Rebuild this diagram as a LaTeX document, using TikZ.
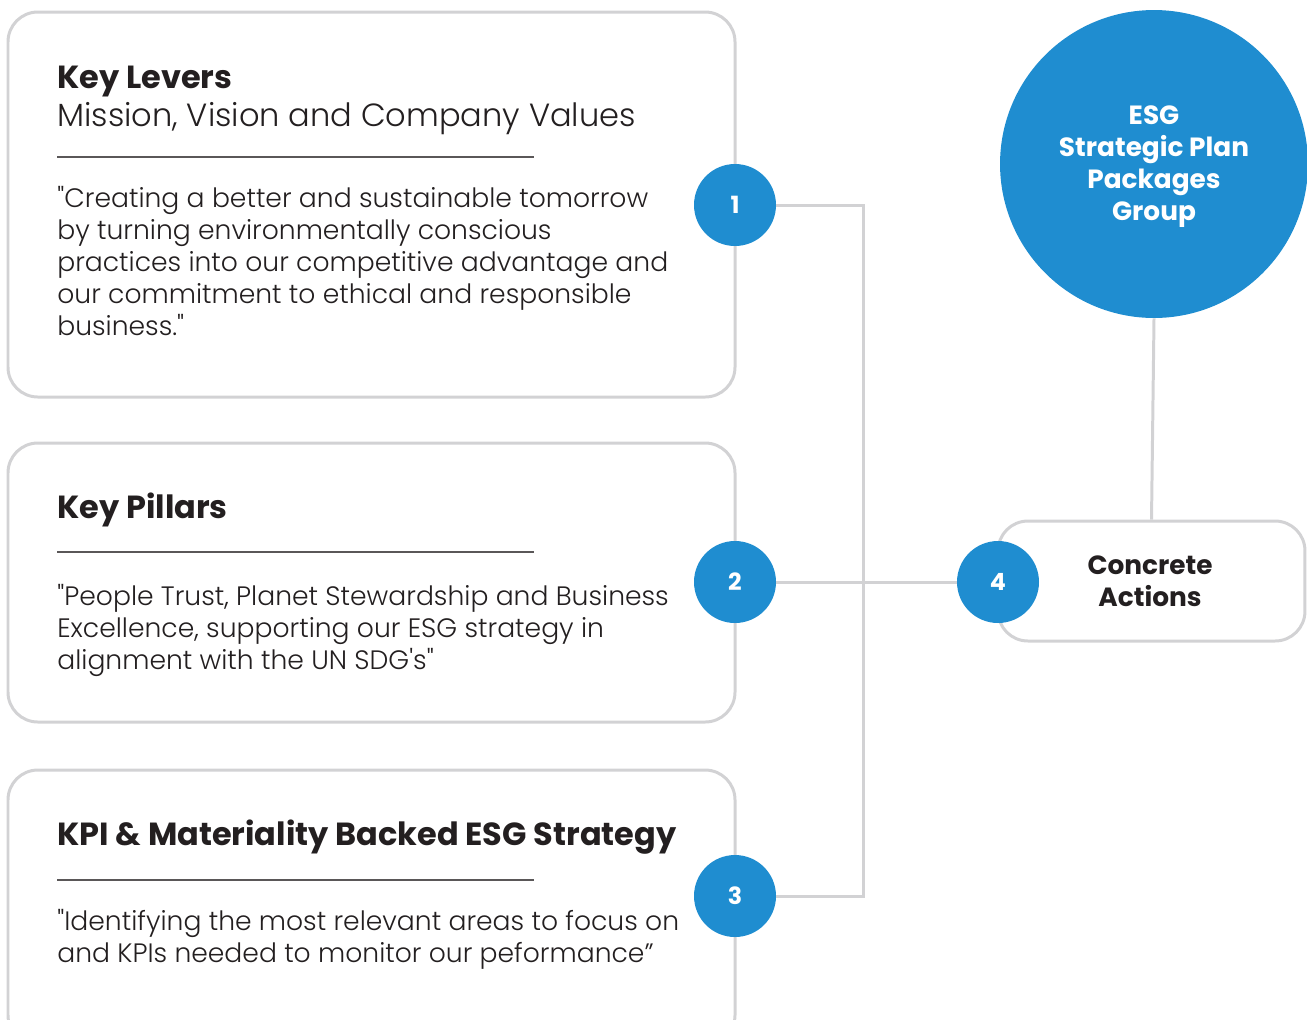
\documentclass[tikz,border=0pt]{standalone}
\usepackage{fontspec}
\setmainfont{Poppins}[Ligatures=TeXOff]
\newfontfamily\lightfont{Poppins Light}[Ligatures=TeXOff]
\usetikzlibrary{calc}
\definecolor{esgblue}{HTML}{1F8DD0}
\definecolor{wiregray}{HTML}{D2D2D4}
\definecolor{ink}{HTML}{231F20}
\tikzset{
  card/.style={draw=wiregray, line width=1.7pt, rounded corners=17pt, fill=white},
  wire/.style={draw=wiregray, line width=1.7pt},
  numdot/.style={circle, fill=esgblue, text=white, minimum size=1.64cm, inner sep=0pt,
    font=\fontsize{13.5}{15}\selectfont\bfseries},
  headtxt/.style={anchor=base west, inner sep=0pt, text=ink, font=\fontsize{18.2}{22}\selectfont\bfseries},
  subtxt/.style={anchor=base west, inner sep=0pt, text=ink, font=\lightfont\fontsize{18.25}{20}\selectfont},
  quotetxt/.style={anchor=base west, inner sep=0pt, text=ink, align=left,
    font=\lightfont\fontsize{15.15}{18.1}\selectfont},
  rule/.style={draw=ink!75, line width=0.6pt}
}
\begin{document}
\begin{tikzpicture}[x=0.02cm, y=-0.02cm]
  \useasboundingbox (0,0) rectangle (1307,1019);
  \clip (0,0) rectangle (1307,1019);

  % cards
  \draw[card] (8,12) rectangle (735,397);
  \draw[card] (8,443) rectangle (735,722);
  \draw[card] (8,770) rectangle (735,1045);
  \node[card, minimum width=6.14cm, minimum height=2.4cm] (act) at (1151.5,581) {};

  % connectors
  \coordinate (bend) at (863,0);
  \node[numdot] (n1) at (735,205) {1};
  \node[numdot] (n2) at (735,582) {2};
  \node[numdot] (n3) at (735,896) {3};
  \node[numdot] (n4) at (998,582) {4};
  \node[circle, fill=esgblue, minimum size=6.16cm, inner sep=0pt] (plan) at (1154,164) {};
  \draw[wire] (n1.east) -- (n1.east -| bend) -- (n3.east -| bend) -- (n3.east);
  \draw[wire] (n2.east) -- (n4.west);
  \draw[wire] (plan.south) -- (act.north);

  % texts (base of a multi-line node = its last line)
  \node[text=white, align=center, font=\fontsize{15}{18.1}\selectfont\bfseries] (plantxt)
    at (1154,166.5) {ESG\\Strategic Plan\\Packages\\Group};
  \node[text=ink, align=center, font=\fontsize{15}{18.1}\selectfont\bfseries] (acttxt)
    at (1150,581) {Concrete\\Actions};

  \node[headtxt] (h1) at (57,88) {Key Levers};
  \node[subtxt] (s1) at (57,126) {Mission, Vision and Company Values};
  \draw[rule] (57,157) -- (534,157);
  \node[quotetxt] (q1) at (57,335) {"Creating a better and sustainable tomorrow\\
    by turning environmentally conscious\\
    practices into our competitive advantage and\\
    our commitment to ethical and responsible\\
    business."};

  \node[headtxt] (h2) at (57,518) {Key Pillars};
  \draw[rule] (57,552) -- (534,552);
  \node[quotetxt] (q2) at (57,669) {"People Trust, Planet Stewardship and Business\\
    Excellence, supporting our ESG strategy in\\
    alignment with the UN SDG's"};

  \node[headtxt] (h3) at (57,845) {KPI \& Materiality Backed ESG Strategy};
  \draw[rule] (57,880) -- (534,880);
  \node[quotetxt] (q3) at (57,962) {"Identifying the most relevant areas to focus on\\
    and KPIs needed to monitor our peformance”};
\end{tikzpicture}
\end{document}
